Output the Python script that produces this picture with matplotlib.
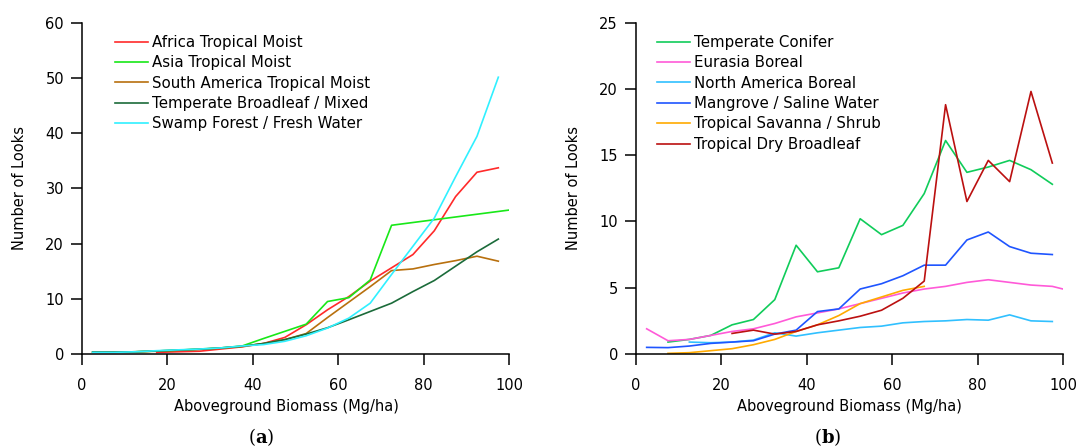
import matplotlib
matplotlib.use("Agg")
import matplotlib.pyplot as plt
import numpy as np

plt.rcParams['font.family'] = ['DejaVu Sans']
plt.rcParams['mathtext.fontset'] = 'dejavuserif'

bins = [2.5, 7.5, 12.5, 17.5, 22.5, 27.5, 32.5, 37.5, 42.5, 47.5,
        52.5, 57.5, 62.5, 67.5, 72.5, 77.5, 82.5, 87.5, 92.5, 97.5, 102.5]

# Panel (a)
africa = [None, None, None, 0.3, 0.4, 0.5, 0.9, 1.3, 1.9, 3.0,
          5.3, 8.0, 10.4, 13.2, 15.6, 18.0, 22.3, 28.5, 32.9, 33.7, None]
asia = [0.35, 0.35, 0.4, 0.55, 0.7, 0.9, 1.1, 1.45, 2.8, 4.1,
        5.4, 9.5, 10.2, 13.4, 23.3, 23.8, 24.3, 24.8, 25.3, 25.8, 26.3]
south_america = [0.35, 0.35, 0.4, 0.5, 0.65, 0.85, 1.05, 1.35, 1.9, 2.6,
                 3.7, 6.6, 9.4, 12.2, 15.1, 15.4, 16.2, 16.9, 17.7, 16.8, None]
temperate_broadleaf = [0.35, 0.35, 0.4, 0.55, 0.7, 0.85, 1.1, 1.4, 1.9, 2.6,
                       3.6, 4.75, 6.2, 7.7, 9.2, 11.3, 13.3, 15.9, 18.5, 20.8, None]
swamp = [0.3, 0.3, 0.4, 0.6, 0.75, 0.9, 1.1, 1.45, 1.7, 2.3,
         3.3, 4.7, 6.5, 9.2, 14.4, 19.5, 24.6, 32.1, 39.4, 50.1, None]

# Panel (b)
temperate_conifer = [None, 0.9, 1.1, 1.4, 2.2, 2.6, 4.1, 8.2, 6.2, 6.5,
                     10.2, 9.0, 9.7, 12.1, 16.1, 13.7, 14.1, 14.6, 13.9, 12.8, None]
eurasia_boreal = [1.9, 1.0, 1.1, 1.4, 1.7, 1.9, 2.3, 2.8, 3.1, 3.4,
                  3.8, 4.2, 4.6, 4.9, 5.1, 5.4, 5.6, 5.4, 5.2, 5.1, 4.7]
na_boreal = [None, None, 0.9, 0.85, 0.9, 1.05, 1.6, 1.35, 1.6, 1.8,
             2.0, 2.1, 2.35, 2.45, 2.5, 2.6, 2.55, 2.95, 2.5, 2.45, None]
mangrove = [0.5, 0.48, 0.6, 0.8, 0.9, 1.0, 1.5, 1.8, 3.2, 3.4,
            4.9, 5.3, 5.9, 6.7, 6.7, 8.6, 9.2, 8.1, 7.6, 7.5, None]
savanna = [None, 0.05, 0.1, 0.25, 0.4, 0.7, 1.1, 1.7, 2.2, 2.9,
           3.8, 4.3, 4.8, 5.1, None, None, None, None, None, None, None]
dry_broadleaf = [None, None, None, None, 1.55, 1.8, 1.5, 1.7, 2.2, 2.5,
                 2.85, 3.3, 4.2, 5.5, 18.8, 11.5, 14.6, 13.0, 19.8, 14.4, None]

labels_a = ["Africa Tropical Moist", "Asia Tropical Moist",
            "South America Tropical Moist", "Temperate Broadleaf / Mixed",
            "Swamp Forest / Fresh Water"]
series_a = [africa, asia, south_america, temperate_broadleaf, swamp]
colors_a = ["#ff2a2a", "#18e818", "#b8700e", "#1b6b3a", "#30f0ff"]

labels_b = ["Temperate Conifer", "Eurasia Boreal", "North America Boreal",
            "Mangrove / Saline Water", "Tropical Savanna / Shrub",
            "Tropical Dry Broadleaf"]
series_b = [temperate_conifer, eurasia_boreal, na_boreal, mangrove, savanna, dry_broadleaf]
colors_b = ["#10cc5a", "#ff5ad8", "#30c0ff", "#1f55ff", "#ffaa00", "#bb1010"]

xticks = [0, 20, 40, 60, 80, 100]
yticks_a = [0, 10, 20, 30, 40, 50, 60]
yticks_b = [0, 5, 10, 15, 20, 25]

fig = plt.figure(figsize=(10.81, 4.48), dpi=100)
W, H = 1081, 448
axa = fig.add_axes([82 / W, 1 - 354 / H, 427 / W, 331.5 / H])
axb = fig.add_axes([636 / W, 1 - 354 / H, 427 / W, 331.5 / H])

FS = 10.5


def to_arr(vals):
    return np.array([np.nan if v is None else v for v in vals], dtype=float)


def style(ax, yticks, ymax, leg_x, labels, series, colors):
    for lab, s, c in zip(labels, series, colors):
        ax.plot(bins, to_arr(s), color=c, lw=1.2, label=lab)
    ax.set_xlim(0, 100)
    ax.set_ylim(0, ymax)
    ax.set_xticks(xticks)
    ax.set_yticks(yticks)
    for sp in ['top', 'right']:
        ax.spines[sp].set_visible(False)
    for sp in ['left', 'bottom']:
        ax.spines[sp].set_linewidth(1.1)
        ax.spines[sp].set_color('black')
    ax.tick_params(direction='out', length=8, width=1.1, labelsize=FS, pad=5,
                   colors='black')
    ax.tick_params(axis='x', pad=9)
    ax.set_xlabel("Aboveground Biomass (Mg/ha)", fontsize=FS)
    ax.set_ylabel("Number of Looks", fontsize=FS)
    ax.yaxis.set_label_coords(-0.128, 0.5)
    leg = ax.legend(loc='upper left', bbox_to_anchor=(leg_x, 0.963), frameon=False,
                    fontsize=10.8, handlelength=2.2, handletextpad=0.25,
                    labelspacing=0.36, borderaxespad=0, borderpad=0)
    return leg


style(axa, yticks_a, 60, 0.077, labels_a, series_a, colors_a)
style(axb, yticks_b, 25, 0.049, labels_b, series_b, colors_b)
axa.xaxis.set_label_coords(0.479, -0.135)
axb.xaxis.set_label_coords(0.5, -0.135)

fig.text(261 / W, 1 - 437 / H, r'($\mathbf{a}$)', ha='center', va='center',
         fontsize=13, family='DejaVu Serif')
fig.text(828 / W, 1 - 437 / H, r'($\mathbf{b}$)', ha='center', va='center',
         fontsize=13, family='DejaVu Serif')

fig.savefig("out.png", dpi=100)
